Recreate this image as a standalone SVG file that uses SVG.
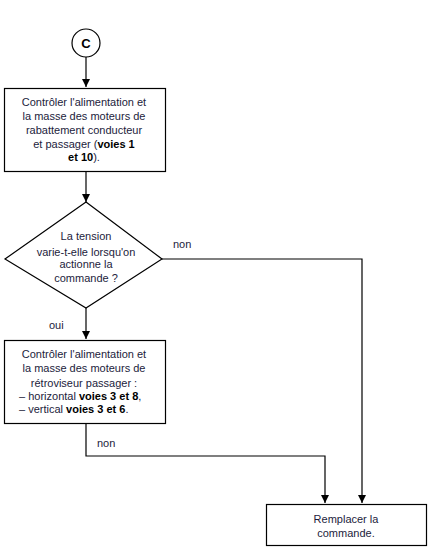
<svg xmlns="http://www.w3.org/2000/svg" width="438" height="557" viewBox="0 0 438 557">
<style>
.s{fill:#fff;stroke:#000;stroke-width:1.2}
.t{font-family:"Liberation Sans",Arial,sans-serif;font-size:11px;fill:#1c1c3c}
.c{text-anchor:middle}
.b{font-weight:bold;fill:#000}
.l{fill:none;stroke:#000;stroke-width:1.2}
</style>
<defs>
<marker id="a" markerWidth="8" markerHeight="8" viewBox="0 0 8 8" refX="8" refY="4" orient="auto" markerUnits="userSpaceOnUse">
<path d="M0,0L8,4L0,8Z" fill="#000"/>
</marker>
</defs>
<g id="connectors">
<path class="l" d="M86,57V87" marker-end="url(#a)"/>
<path class="l" d="M86,172V202" marker-end="url(#a)"/>
<path class="l" d="M86,308V339" marker-end="url(#a)"/>
<path class="l" d="M162,259H362V503" marker-end="url(#a)"/>
<path class="l" d="M86,424V456H325V503" marker-end="url(#a)"/>
<text class="t" x="173" y="248">non</text>
<text class="t" x="49" y="329">oui</text>
<text class="t" x="97" y="447">non</text>
</g>
<g id="start">
<circle class="s" cx="86" cy="43" r="14"/>
<text class="t b" x="86" y="48" text-anchor="middle" style="font-size:13px">C</text>
</g>
<g id="box1">
<rect class="s" x="4.5" y="88.5" width="161" height="83"/>
<text class="t c" x="84" y="106">Contrôler l'alimentation et</text>
<text class="t c" x="84" y="120">la masse des moteurs de</text>
<text class="t c" x="84" y="134">rabattement conducteur</text>
<text class="t c" x="84" y="148">et passager (<tspan class="b">voies 1</tspan></text>
<text class="t c" x="84" y="161"><tspan class="b">et 10</tspan>).</text>
</g>
<g id="decision">
<path class="s" d="M86,202L162,259L86,308L5,259Z"/>
<text class="t c" x="86" y="240">La tension</text>
<text class="t c" x="86" y="256">varie-t-elle lorsqu'on</text>
<text class="t c" x="86" y="268">actionne la</text>
<text class="t c" x="86" y="282">commande ?</text>
</g>
<g id="box2">
<rect class="s" x="4.5" y="340.5" width="161" height="83"/>
<text class="t c" x="84" y="358">Contrôler l'alimentation et</text>
<text class="t c" x="84" y="372">la masse des moteurs de</text>
<text class="t c" x="84" y="387">rétroviseur passager :</text>
<text class="t" x="19" y="400">– horizontal <tspan class="b">voies 3 et 8</tspan>,</text>
<text class="t" x="19" y="413">– vertical <tspan class="b">voies 3 et 6</tspan>.</text>
</g>
<g id="box3">
<rect class="s" x="266.5" y="504.5" width="160" height="41"/>
<text class="t c" x="346" y="523">Remplacer la</text>
<text class="t c" x="346" y="537">commande.</text>
</g>
</svg>
